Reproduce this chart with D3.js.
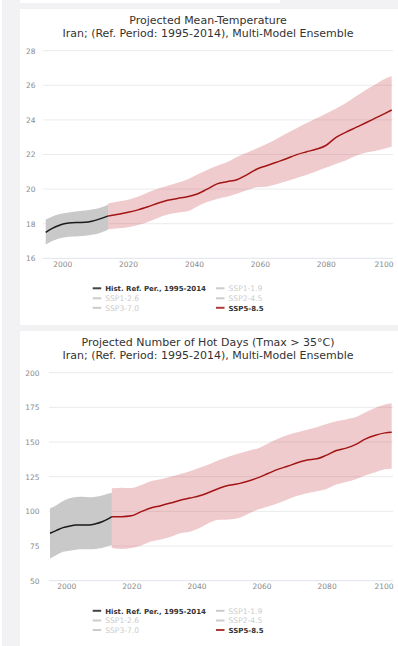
<!DOCTYPE html>
<html><head><meta charset="utf-8">
<script src="https://cdn.jsdelivr.net/npm/d3@7"></script>
<style>html,body{margin:0;padding:0;background:#f2f2f4;}svg{display:block;}</style>
</head><body>
<svg id="c" width="398" height="646"></svg>
<script>
// ---------- DATA ----------
const histYears = [1995,1997,1999,2001,2003,2005,2007,2009,2011,2013,2014];
const projYears = [2014,2017,2020,2023,2026,2029,2032,2035,2038,2041,2044,2047,2050,2053,2056,2059,2062,2065,2068,2071,2074,2077,2080,2083,2086,2089,2092,2095,2098,2100];

const tempHistMean = [17.5,17.73,17.9,18.01,18.06,18.07,18.08,18.14,18.25,18.38,18.45];
const tempHistHigh = [18.25,18.42,18.55,18.62,18.68,18.72,18.76,18.82,18.9,19.02,19.12];
const tempHistLow  = [16.8,17.0,17.15,17.22,17.26,17.28,17.3,17.36,17.44,17.58,17.68];
const tempProjMean = [18.45,18.55,18.66,18.8,18.98,19.18,19.35,19.46,19.56,19.72,20.0,20.3,20.43,20.54,20.82,21.15,21.35,21.55,21.75,21.98,22.15,22.3,22.52,22.98,23.28,23.55,23.82,24.1,24.38,24.57];
const tempProjHigh = [19.18,19.28,19.39,19.56,19.8,20.02,20.2,20.36,20.55,20.84,21.1,21.35,21.55,21.85,22.1,22.35,22.6,22.9,23.22,23.5,23.8,24.08,24.36,24.65,24.96,25.35,25.72,26.05,26.38,26.52];
const tempProjLow  = [17.68,17.73,17.8,17.92,18.1,18.33,18.53,18.64,18.72,19.0,19.25,19.43,19.56,19.73,19.93,20.1,20.14,20.28,20.45,20.63,20.81,21.02,21.23,21.45,21.65,21.92,22.1,22.2,22.35,22.45];

const hotHistMean = [84.2,86.3,88.3,89.4,90.1,90.2,90.2,91.0,92.5,94.8,96.2];
const hotHistHigh = [102.2,104.5,107.5,109.4,110.4,110.6,110.2,110.6,111.5,112.8,113.4];
const hotHistLow  = [66.1,68.5,70.8,71.6,72.3,72.6,72.6,72.9,73.5,75.0,75.7];
const hotProjMean = [96.2,96.2,96.8,99.8,102.4,104.1,106,108,109.6,111.2,113.8,116.7,118.8,120,121.9,124.3,127.3,130.3,132.5,135.1,137.1,137.9,140.6,143.9,145.6,148.3,152.3,154.9,156.6,157];
const hotProjHigh = [116.6,117,116.8,119,121.8,123.2,125,127,129,131.5,134,137,139.5,141.7,143.8,145.6,149,152.4,155,157,158.8,160.7,163,165,166.3,168,171.4,174.7,177,177.9];
const hotProjLow  = [73.5,72.8,73.5,75.3,78.2,79.8,81.5,84.2,85.3,88,91.8,94,94.2,95.2,98.3,101.4,103.5,105.9,108.6,111.2,113.1,114.5,116.2,119.3,121.2,123.1,126,128.2,130.3,131];

const xTicks = [2000,2020,2040,2060,2080,2100];
const tempTicks = [16,18,20,22,24,26,28];
const hotTicks = [50,75,100,125,150,175,200];

const titles1 = ["Projected Mean-Temperature","Iran; (Ref. Period: 1995-2014), Multi-Model Ensemble"];
const titles2 = ["Projected Number of Hot Days (Tmax > 35°C)","Iran; (Ref. Period: 1995-2014), Multi-Model Ensemble"];
const legendNames = ["Hist. Ref. Per., 1995-2014","SSP1-1.9","SSP1-2.6","SSP2-4.5","SSP3-7.0","SSP5-8.5"];
const legendActive = [true,false,false,false,false,true];
const legendKind = ["hist","off","off","off","off","ssp585"];

// ---------- DRAW ----------
const svg = d3.select("#c");
const FONT = "'DejaVu Sans', 'Lucida Grande', sans-serif";

svg.append("rect").attr("x",0).attr("y",0).attr("width",398).attr("height",646).attr("fill","#f2f2f4");
svg.append("rect").attr("x",0).attr("y",0).attr("width",2).attr("height",646).attr("fill","#ffffff");
svg.append("rect").attr("x",20).attr("y",0).attr("width",260).attr("height",3).attr("fill","#ffffff");

const colors = {
  hist: "#1a1a1a", histBand: "#c9c9c9",
  ssp585: "#a31515", sspBand: "rgba(196,68,78,0.28)",
  off: "#cccccc"
};

function drawChart(cfg) {
  const g = svg.append("g");
  g.append("rect").attr("x",20).attr("y",cfg.cardTop).attr("width",378).attr("height",cfg.cardH).attr("fill","#fff");

  cfg.titles.forEach((t,i)=>{
    g.append("text").attr("x",208).attr("y",cfg.titleY[i]).attr("text-anchor","middle")
      .attr("font-family",FONT).attr("font-size",cfg.titleSize).attr("fill","#333").text(t);
  });

  const x = d3.scaleLinear().domain([1995,2100]).range(cfg.xRange);
  const y = d3.scaleLinear().domain(cfg.yDomain).range(cfg.yRange);

  cfg.yTicks.forEach((t,i)=>{
    g.append("line").attr("x1",cfg.gridX[0]).attr("x2",cfg.gridX[1])
      .attr("y1",y(t)).attr("y2",y(t))
      .attr("stroke", i===0 ? "#dfe3ea" : "#ebebeb").attr("stroke-width",1);
  });
  const yAxis = d3.axisLeft(y).tickValues(cfg.yTicks).tickSize(0).tickPadding(0);
  const ya = g.append("g").attr("transform",`translate(${cfg.yLabelX},0)`).call(yAxis);
  ya.select(".domain").remove();
  ya.selectAll("text").attr("font-family",FONT).attr("font-size",7.5).attr("fill","#8a8a8a");

  const xAxis = d3.axisBottom(x).tickValues(xTicks).tickSize(0).tickPadding(0).tickFormat(d3.format("d"));
  const xa = g.append("g").attr("transform",`translate(0,${cfg.xLabelY})`).call(xAxis);
  xa.select(".domain").remove();
  xa.selectAll("text").attr("font-family",FONT).attr("font-size",7.5).attr("fill","#8a8a8a").attr("dy","0");
  xa.selectAll(".tick").filter(d=>d===2100).select("text").attr("text-anchor","end")
    .attr("x", cfg.gridX[1] - x(2100));

  const curve = d3.curveMonotoneX;
  const hist = histYears.map((yr,i)=>({yr, m:cfg.hMean[i], hi:cfg.hHigh[i], lo:cfg.hLow[i]}));
  const proj = projYears.map((yr,i)=>({yr, m:cfg.pMean[i], hi:cfg.pHigh[i], lo:cfg.pLow[i]}));
  const area = d3.area().x(d=>x(d.yr)).y0(d=>y(d.lo)).y1(d=>y(d.hi)).curve(curve);
  const line = d3.line().x(d=>x(d.yr)).y(d=>y(d.m)).curve(curve);

  g.append("path").datum(hist).attr("d",area).attr("fill",colors.histBand);
  g.append("path").datum(proj).attr("d",area).attr("fill",colors.sspBand);
  g.append("path").datum(hist).attr("d",line).attr("fill","none").attr("stroke",colors.hist).attr("stroke-width",1.5);
  g.append("path").datum(proj).attr("d",line).attr("fill","none").attr("stroke",colors.ssp585).attr("stroke-width",1.5);

  const colX = [92.7, 216];
  legendNames.forEach((name,i)=>{
    const col = i%2, row = Math.floor(i/2);
    const cy = cfg.legendY[row];
    const kind = legendKind[i];
    const sc = kind==="hist" ? "#444" : (kind==="ssp585" ? "#b03a3a" : "#cccccc");
    g.append("line").attr("x1",colX[col]).attr("x2",colX[col]+8.5).attr("y1",cy).attr("y2",cy)
      .attr("stroke",sc).attr("stroke-width",2);
    g.append("text").attr("x",colX[col]+12.5).attr("y",cy+2.7)
      .attr("font-family",FONT).attr("font-size",legendActive[i]?7.0:7.6)
      .attr("font-weight",legendActive[i]?"bold":"normal")
      .attr("fill",legendActive[i]?"#333":"#cccccc").text(name);
  });
}

drawChart({
  cardTop:9, cardH:316, titles:titles1, titleY:[24,37], titleSize:11.0,
  xRange:[45.7,391.7], gridX:[43,393], yDomain:[16,28], yRange:[258.3,50.7], yTicks:tempTicks,
  yLabelX:35.5, xLabelY:266.5, legendY:[288.3,298.3,307.8],
  hMean:tempHistMean, hHigh:tempHistHigh, hLow:tempHistLow,
  pMean:tempProjMean, pHigh:tempProjHigh, pLow:tempProjLow
});
drawChart({
  cardTop:331, cardH:315, titles:titles2, titleY:[346,359], titleSize:11.0,
  xRange:[50,391.7], gridX:[49,393], yDomain:[50,200], yRange:[580.7,372.7], yTicks:hotTicks,
  yLabelX:39.5, xLabelY:588.5, legendY:[610.8,620.5,630],
  hMean:hotHistMean, hHigh:hotHistHigh, hLow:hotHistLow,
  pMean:hotProjMean, pHigh:hotProjHigh, pLow:hotProjLow
});
</script>
</body></html>
